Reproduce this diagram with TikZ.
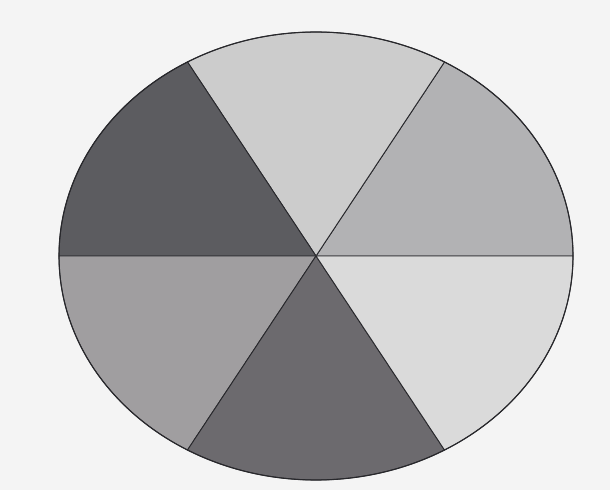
\documentclass[tikz,border=0pt]{standalone}
\usepackage{tikz}
\usetikzlibrary{calc}
\definecolor{bgpaper}{RGB}{244,244,244}
\definecolor{sA}{RGB}{178,178,180}
\definecolor{sB}{RGB}{204,204,204}
\definecolor{sC}{RGB}{92,92,96}
\definecolor{sD}{RGB}{160,158,160}
\definecolor{sE}{RGB}{108,106,110}
\definecolor{sF}{RGB}{218,218,218}
\definecolor{edge}{RGB}{40,40,44}
\tikzset{
  sector/.style={draw=edge, line width=0.9pt, line join=round},
}
\newcommand{\pieslice}[3]{%
  \filldraw[sector, fill=#3] (c) -- ($(c)+({257*cos(#1)},{224*sin(#1)})$)
    arc[start angle=#1, end angle=#2, x radius=257, y radius=224] -- cycle;}
\begin{document}
\begin{tikzpicture}[x=1pt,y=1pt]
\fill[bgpaper] (0,0) rectangle (610,490);
\useasboundingbox (0,0) rectangle (610,490);
\coordinate (c) at (316,234);
\pieslice{0}{60}{sA}
\pieslice{60}{120}{sB}
\pieslice{120}{180}{sC}
\pieslice{180}{240}{sD}
\pieslice{240}{300}{sE}
\pieslice{300}{360}{sF}
\draw[edge, line width=1.1pt] (c) ellipse[x radius=257, y radius=224];
\end{tikzpicture}
\end{document}
